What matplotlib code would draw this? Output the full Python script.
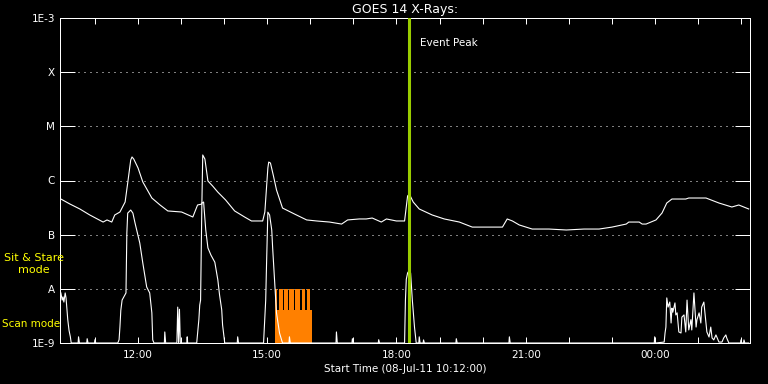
import numpy as np
import matplotlib.pyplot as plt
from matplotlib.ticker import FixedLocator, NullLocator

#
# GOES 14 X-ray flux, time in UT hours counted from 08-Jul-11 00:00
#
long_t = [10.22, 10.43, 10.66, 10.89, 11.20, 11.29, 11.40, 11.47, 11.59, 11.71,
          11.77, 11.84, 11.87, 11.91, 12.01, 12.12, 12.33, 12.52, 12.70, 13.02,
          13.28, 13.39, 13.49, 13.51, 13.56, 13.63, 13.74, 13.86, 14.04, 14.25,
          14.48, 14.64, 14.90, 14.95, 15.02, 15.04, 15.08, 15.15, 15.22, 15.36,
          15.64, 15.92, 16.15, 16.45, 16.73, 16.87, 17.14, 17.30, 17.44, 17.65,
          17.77, 18.00, 18.19, 18.26, 18.30, 18.39, 18.53, 18.83, 19.11, 19.46,
          19.76, 20.39, 20.46, 20.57, 20.69, 20.85, 21.15, 21.54, 21.94, 22.35,
          22.70, 23.00, 23.33, 23.39, 23.63, 23.70, 23.79, 24.02, 24.16, 24.27,
          24.39, 24.71, 24.78, 25.18, 25.48, 25.78, 25.94, 26.17]
long_flux = [4.55e-7, 3.68e-7, 2.98e-7, 2.31e-7, 1.71e-7, 1.87e-7, 1.71e-7, 2.31e-7, 2.62e-7, 4.01e-7,
             9.0e-7, 2.39e-6, 2.72e-6, 2.49e-6, 1.70e-6, 9.4e-7, 4.75e-7, 3.53e-7, 2.74e-7, 2.62e-7,
             2.12e-7, 3.53e-7, 3.68e-7, 2.96e-6, 2.49e-6, 9.8e-7, 7.9e-7, 6.1e-7, 4.37e-7, 2.74e-7,
             2.12e-7, 1.79e-7, 1.79e-7, 2.62e-7, 1.70e-6, 2.19e-6, 2.10e-6, 1.21e-6, 6.7e-7, 3.10e-7,
             2.40e-7, 1.87e-7, 1.79e-7, 1.71e-7, 1.57e-7, 1.87e-7, 1.95e-7, 1.95e-7, 2.03e-7, 1.71e-7,
             1.95e-7, 1.79e-7, 1.79e-7, 5.18e-7, 5.64e-7, 4.01e-7, 2.98e-7, 2.31e-7, 1.95e-7, 1.71e-7,
             1.38e-7, 1.38e-7, 1.38e-7, 1.95e-7, 1.79e-7, 1.51e-7, 1.27e-7, 1.27e-7, 1.22e-7, 1.27e-7,
             1.27e-7, 1.38e-7, 1.57e-7, 1.71e-7, 1.71e-7, 1.57e-7, 1.57e-7, 1.87e-7, 2.51e-7, 3.84e-7,
             4.55e-7, 4.55e-7, 4.75e-7, 4.75e-7, 3.84e-7, 3.24e-7, 3.53e-7, 2.98e-7]

short_t = [10.22, 10.25, 10.27, 10.29, 10.32, 10.34, 10.38, 10.41, 10.44, 10.46,
           10.62, 10.63, 10.65, 10.82, 10.83, 10.85, 11.00, 11.01, 11.03,
           11.54, 11.57, 11.59, 11.61, 11.64, 11.68, 11.73, 11.75, 11.77, 11.84,
           11.89, 11.94, 12.05, 12.12, 12.21, 12.28, 12.33, 12.35, 12.38,
           12.62, 12.63, 12.65, 12.91, 12.93, 12.95, 12.97, 12.99, 13.14, 13.15, 13.16,
           13.37, 13.42, 13.44, 13.46, 13.49, 13.53, 13.58, 13.63, 13.70, 13.79,
           13.86, 13.90, 13.95, 13.97, 14.02,
           14.31, 14.32, 14.34, 14.92, 14.97, 14.99, 15.02, 15.06, 15.11, 15.13,
           15.18, 15.22, 15.29, 15.36, 15.51, 15.52, 15.54,
           16.60, 16.61, 16.63, 16.97, 16.98, 17.00, 17.58, 17.59, 17.61,
           18.19, 18.21, 18.23, 18.26, 18.30, 18.33, 18.35, 18.37, 18.42, 18.46,
           18.52, 18.53, 18.55, 18.62, 18.63, 18.65, 19.38, 19.39, 19.41,
           20.61, 20.62, 20.64, 23.98, 23.99, 24.01,
           24.21, 24.23, 24.25, 24.27, 24.30, 24.34, 24.37, 24.39, 24.41, 24.46,
           24.48, 24.51, 24.55, 24.60, 24.62, 24.67, 24.71, 24.74, 24.78, 24.83,
           24.85, 24.90, 24.95, 24.97, 25.02, 25.06, 25.08, 25.13, 25.18, 25.20,
           25.25, 25.29, 25.32, 25.36, 25.41, 25.43, 25.48, 25.55, 25.59, 25.64,
           25.66, 25.71, 25.98, 25.99, 26.01, 26.05, 26.06, 26.08, 26.17]
short_flux = [8.4e-9, 6.2e-9, 7.1e-9, 5.7e-9, 8.4e-9, 6.8e-9, 2.7e-9, 1.7e-9, 1.3e-9, 1.0e-9,
              1.0e-9, 1.3e-9, 1.0e-9, 1.0e-9, 1.2e-9, 1.0e-9, 1.0e-9, 1.15e-9, 1.0e-9,
              1.0e-9, 1.15e-9, 2.0e-9, 4.0e-9, 6.2e-9, 7.1e-9, 8.4e-9, 1.07e-7, 2.5e-7, 2.85e-7,
              2.5e-7, 1.64e-7, 7.0e-8, 3.0e-8, 1.08e-8, 8.4e-9, 3.6e-9, 1.14e-9, 1.0e-9,
              1.0e-9, 1.6e-9, 1.0e-9, 1.0e-9, 4.6e-9, 1.0e-9, 4.2e-9, 1.0e-9, 1.0e-9, 1.3e-9, 1.0e-9,
              1.0e-9, 2.7e-9, 5.0e-9, 6.2e-9, 3.84e-7, 4.0e-7, 1.22e-7, 5.7e-8, 4.2e-8, 3.1e-8,
              1.46e-8, 7.7e-9, 4.1e-9, 2.15e-9, 1.0e-9,
              1.0e-9, 1.3e-9, 1.0e-9, 1.0e-9, 6.2e-9, 3.0e-8, 2.6e-7, 2.31e-7, 1.22e-7, 5.9e-8,
              1.28e-8, 3.6e-9, 1.53e-9, 1.0e-9, 1.0e-9, 1.3e-9, 1.0e-9,
              1.0e-9, 1.6e-9, 1.0e-9, 1.0e-9, 1.2e-9, 1.0e-9, 1.0e-9, 1.15e-9, 1.0e-9,
              1.0e-9, 6.2e-9, 1.5e-8, 1.96e-8, 2.2e-8, 1.96e-8, 1.1e-8, 6.2e-9, 1.97e-9, 1.0e-9,
              1.0e-9, 1.3e-9, 1.0e-9, 1.0e-9, 1.14e-9, 1.0e-9, 1.0e-9, 1.2e-9, 1.0e-9,
              1.0e-9, 1.3e-9, 1.0e-9, 1.0e-9, 1.3e-9, 1.0e-9,
              1.04e-9, 1.53e-9, 1.97e-9, 6.8e-9, 4.6e-9, 5.7e-9, 2.34e-9, 4.4e-9, 3.7e-9, 5.5e-9,
              3.3e-9, 3.6e-9, 1.6e-9, 1.53e-9, 3.0e-9, 3.3e-9, 1.6e-9, 6.2e-9, 1.74e-9, 2.7e-9,
              1.74e-9, 8.4e-9, 1.97e-9, 2.7e-9, 3.6e-9, 2.34e-9, 4.6e-9, 5.7e-9, 2.34e-9, 1.6e-9,
              1.29e-9, 1.97e-9, 1.24e-9, 1.14e-9, 1.41e-9, 1.29e-9, 1.04e-9, 1.04e-9, 1.24e-9, 1.41e-9,
              1.24e-9, 1.0e-9, 1.0e-9, 1.14e-9, 1.0e-9, 1.0e-9, 1.14e-9, 1.0e-9, 1.0e-9]

# observing mode blocks (orange)
mode_edges = [15.18, 15.24, 15.27, 15.36, 15.39, 15.49, 15.52, 15.62,
              15.66, 15.76, 15.80, 15.89, 15.92, 15.99, 16.05]
mode_level = [1e-8, 4e-9, 1e-8, 4e-9, 1e-8, 4e-9, 1e-8,
              4e-9, 1e-8, 4e-9, 1e-8, 4e-9, 1e-8, 4e-9]

event_peak = 18.30
start_hour = 10.2
end_hour = 26.2

tick_hours = [12, 15, 18, 21, 24]
tick_labels = ['12:00', '15:00', '18:00', '21:00', '00:00']
minor_hours = list(range(11, 27))
flux_ticks = [1e-9, 1e-8, 1e-7, 1e-6, 1e-5, 1e-4, 1e-3]
flux_labels = ['1E-9', 'A', 'B', 'C', 'M', 'X', '1E-3']

W, H = 768, 384
fs = 7.5
fig = plt.figure(figsize=(W / 100, H / 100), dpi=100, facecolor='black')
ax = fig.add_axes([60 / W, 41 / H, 690 / W, 325 / H], facecolor='black')

ax.set_yscale('log')
ax.set_xlim(start_hour, end_hour)
ax.set_ylim(1e-9, 1e-3)

# orange mode bars
ax.bar(mode_edges[:-1], np.array(mode_level) - 1e-9, width=np.diff(mode_edges),
       bottom=1e-9, align='edge', color='#ff8000', linewidth=0, zorder=2)

ax.plot(long_t, long_flux, color='white', lw=0.8, zorder=3)
ax.plot(short_t, short_flux, color='white', lw=0.8, zorder=3)

ax.axvline(event_peak, color='#99cc00', lw=2.2, zorder=4)
ax.annotate('Event Peak', xy=(event_peak, 1), xycoords=('data', 'axes fraction'),
            xytext=(8, -18), textcoords='offset points', va='center', ha='left',
            color='white', fontsize=fs)

# axes styling
ax.yaxis.set_major_locator(FixedLocator(flux_ticks))
ax.yaxis.set_minor_locator(NullLocator())
ax.set_yticklabels(flux_labels)
ax.xaxis.set_major_locator(FixedLocator(tick_hours))
ax.xaxis.set_minor_locator(FixedLocator(minor_hours))
ax.set_xticklabels(tick_labels)

ax.yaxis.grid(True, color='white', lw=0.72, ls=(0, (1, 5)))
ax.tick_params(axis='y', which='major', direction='in', length=10.8, width=0.72,
               colors='white', left=True, right=True, labelsize=fs, pad=3.5)
ax.tick_params(axis='x', which='both', direction='in', length=4, width=0.72,
               colors='white', top=True, bottom=True, labelsize=fs, pad=5)
for sp in ax.spines.values():
    sp.set_color('white')
    sp.set_linewidth(0.72)

fig.text(405 / W, 1 - 10 / H, 'GOES 14 X-Rays:', color='white', fontsize=9,
         ha='center', va='center')
fig.text(405 / W, 1 - 369 / H, 'Start Time (08-Jul-11 10:12:00)', color='white',
         fontsize=fs, ha='center', va='center')
fig.text(34 / W, 1 - 264 / H, 'Sit & Stare\nmode', color='yellow', fontsize=8,
         ha='center', va='center', linespacing=1.2)
fig.text(2 / W, 1 - 324 / H, 'Scan mode', color='yellow', fontsize=fs,
         ha='left', va='center')

fig.savefig('out.png', dpi=100, facecolor='black')
